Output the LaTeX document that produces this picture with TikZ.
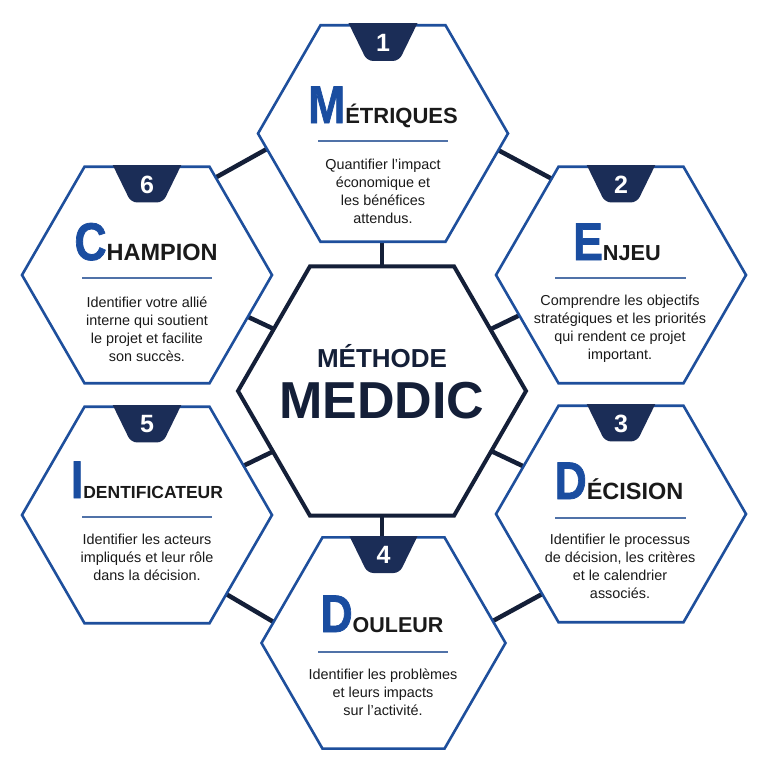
\documentclass[tikz,border=0pt]{standalone}
\usepackage{fontspec}
\setmainfont{Liberation Sans}
\newfontfamily\heavyfont[FakeBold=1.5]{Liberation Sans Bold}
\usepackage{graphicx}
\usetikzlibrary{shapes.geometric,backgrounds}
\definecolor{hexblue}{HTML}{1E4F9C}
\definecolor{letterblue}{HTML}{1A4DA0}
\definecolor{navy}{HTML}{1B2D57}
\definecolor{darknavy}{HTML}{141F38}
\definecolor{sepblue}{HTML}{5072A8}
\definecolor{txt}{HTML}{1A1A1A}
\newcommand\bigL[1]{\scalebox{0.84}[1]{\fontsize{53}{53}\heavyfont\color{letterblue}#1}}
\newcommand\restT[2]{{\fontsize{#1}{#1}\selectfont\bfseries\color{txt}#2}}
\newcommand\badgeat[2]{%
  \begin{scope}[shift={(#1.north)}]
    \begin{scope}
      \clip (-50,0) rectangle (50,50);
      \fill[badge, rounded corners=6pt] (-38,-8) -- (38,-8) -- (16,37) -- (-16,37) -- cycle;
    \end{scope}
    \node[numtxt] (n#2) at (0,19) {#2};
  \end{scope}}
\begin{document}
\begin{tikzpicture}[x=1pt,y=-1pt,
 hexo/.style={regular polygon, regular polygon sides=6, draw=hexblue, line width=2.6pt, fill=white, inner sep=0pt, minimum size=250pt},
 hexc/.style={regular polygon, regular polygon sides=6, draw=darknavy, line width=4pt, fill=white, inner sep=0pt, minimum size=288pt},
 link/.style={draw=darknavy, line width=4.5pt},
 badge/.style={fill=navy},
 numtxt/.style={text=white, font=\bfseries\fontsize{25}{25}\selectfont, inner sep=0pt},
 title/.style={anchor=base, inner sep=0pt},
 sepline/.style={draw=sepblue, line width=1.3pt},
 body/.style={anchor=base, inner sep=0pt, align=center, text=txt, font=\fontsize{14.4}{18}\selectfont},
 center/.style={anchor=base, inner sep=0pt, text=darknavy},
]
\path[use as bounding box] (0,0) rectangle (768,768);

% hexagons
\node[hexo] (h1) at (383,133.5) {};
\node[hexo] (h2) at (621,275) {};
\node[hexo] (h3) at (621,514) {};
\node[hexo, minimum size=244pt] (h4) at (383.5,643) {};
\node[hexo] (h5) at (147,515) {};
\node[hexo] (h6) at (147,275) {};
\node[hexc] (hc) at (382,391) {};

% connector ends
\coordinate (a61) at (213,179); \coordinate (b61) at (274,145);
\coordinate (a12) at (498,150); \coordinate (b12) at (554,180);
\coordinate (a1c) at (382,238); \coordinate (b1c) at (382,272);
\coordinate (a4c) at (382,510); \coordinate (b4c) at (382,543);
\coordinate (a6c) at (244,315); \coordinate (b6c) at (276,330);
\coordinate (a2c) at (489,330); \coordinate (b2c) at (522,314);
\coordinate (a5c) at (241,467); \coordinate (b5c) at (274,451);
\coordinate (a3c) at (489,450); \coordinate (b3c) at (527,468);
\coordinate (a54) at (221,591); \coordinate (b54) at (277,624);
\coordinate (a34) at (491,622); \coordinate (b34) at (544,593);

\begin{scope}[on background layer]
  \fill[white] (0,0) rectangle (768,768);
  \draw[link] (a61) -- (b61);
  \draw[link] (a12) -- (b12);
  \draw[link] (a1c) -- (b1c);
  \draw[link] (a4c) -- (b4c);
  \draw[link] (a6c) -- (b6c);
  \draw[link] (a2c) -- (b2c);
  \draw[link] (a5c) -- (b5c);
  \draw[link] (a3c) -- (b3c);
  \draw[link] (a54) -- (b54);
  \draw[link] (a34) -- (b34);
\end{scope}

% badges
\badgeat{h1}{1}
\badgeat{h2}{2}
\badgeat{h3}{3}
\badgeat{h4}{4}
\badgeat{h5}{5}
\badgeat{h6}{6}

% hex 1
\node[title] (t1) at (383,123) {\bigL{M}\restT{22}{ÉTRIQUES}};
\draw[sepline] (318,141) -- (448,141);
\node[body] (d1) at (383,223) {Quantifier l’impact\\économique et\\les bénéfices\\attendus.};

% hex 6
\node[title] (t6) at (146,260) {\bigL{C}\restT{23.5}{HAMPION}};
\draw[sepline] (82,278) -- (212,278);
\node[body] (d6) at (147,361) {Identifier votre allié\\interne qui soutient\\le projet et facilite\\son succès.};

% hex 2
\node[title] (t2) at (617,260) {\bigL{E}\restT{21.7}{NJEU}};
\draw[sepline] (555,278) -- (686,278);
\node[body] (d2) at (620,359) {Comprendre les objectifs\\stratégiques et les priorités\\qui rendent ce projet\\important.};

% hex 5
\node[title] (t5) at (147,498) {\bigL{I}\restT{17.5}{DENTIFICATEUR}};
\draw[sepline] (82,517) -- (212,517);
\node[body] (d5) at (147,580) {Identifier les acteurs\\impliqués et leur rôle\\dans la décision.};

% hex 3
\node[title] (t3) at (619,499) {\bigL{D}\restT{23.5}{ÉCISION}};
\draw[sepline] (555,518) -- (686,518);
\node[body] (d3) at (620,598) {Identifier le processus\\de décision, les critères\\et le calendrier\\associés.};

% hex 4
\node[title] (t4) at (382,632) {\bigL{D}\restT{21.5}{OULEUR}};
\draw[sepline] (318,652) -- (448,652);
\node[body] (d4) at (383,715) {Identifier les problèmes\\et leurs impacts\\sur l’activité.};

% centre
\node[center, font=\bfseries\fontsize{26}{26}\selectfont] (m1) at (382,367) {MÉTHODE};
\node[center, font=\bfseries\fontsize{52}{52}\selectfont] (m2) at (382,418) {MEDDIC};
\end{tikzpicture}
\end{document}
